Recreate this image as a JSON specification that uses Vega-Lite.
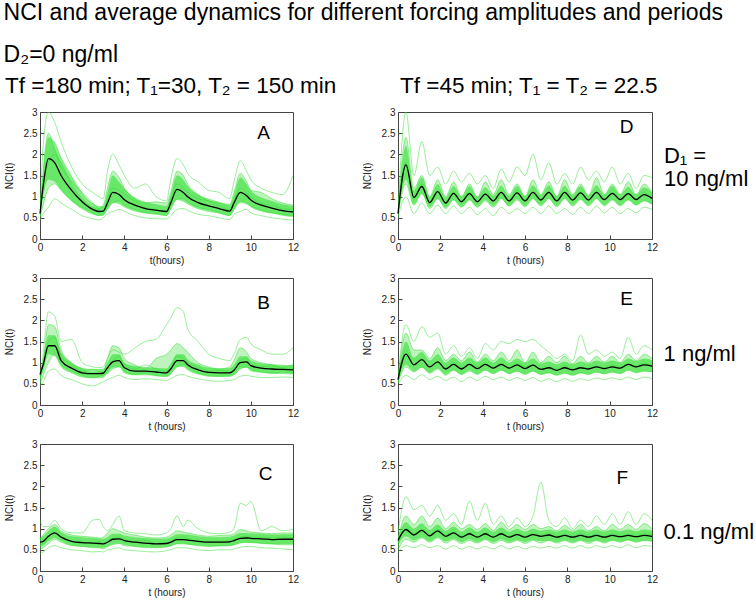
{
"$schema": "https://vega.github.io/schema/vega-lite/v6.json",
"padding": {"left": 3, "top": 2, "right": 3, "bottom": 3},
"title": {"text": "NCI and average dynamics for different forcing amplitudes and periods", "subtitle": "D₂=0 ng/ml", "anchor": "start", "frame": "bounds", "font": "Liberation Sans", "fontSize": 23, "fontWeight": "normal", "color": "black", "subtitleFont": "Liberation Sans", "subtitleFontSize": 23, "subtitleColor": "black", "subtitlePadding": 19, "offset": 8},
"data": {"values": [
{"c":1,"r":1,"t":0,"m":0.6,"l":0.5,"h":0.7,"a":0.65,"b":0.55,"u":0.6,"v":0.5,"w":0.45,"L":"A"},
{"c":1,"r":1,"t":0.15,"m":1.25,"l":1.0,"h":1.6,"a":2.2,"b":1.6,"u":1.2,"v":0.8,"w":0.6},
{"c":1,"r":1,"t":0.4,"m":1.9,"l":1.4,"h":2.4,"a":3.0,"b":2.5,"u":1.8,"v":1.2,"w":0.75},
{"c":1,"r":1,"t":0.7,"m":1.8,"l":1.35,"h":2.3,"a":2.75,"b":2.1,"u":2.0,"v":1.3,"w":0.95},
{"c":1,"r":1,"t":1,"m":1.5,"l":1.15,"h":1.95,"a":2.3,"b":1.8,"u":1.7,"v":1.15,"w":0.85},
{"c":1,"r":1,"t":1.5,"m":1.15,"l":0.9,"h":1.5,"a":1.7,"b":1.3,"u":1.35,"v":0.9,"w":0.7},
{"c":1,"r":1,"t":2,"m":0.88,"l":0.7,"h":1.1,"a":1.3,"b":0.95,"u":1.1,"v":0.75,"w":0.55},
{"c":1,"r":1,"t":2.5,"m":0.7,"l":0.58,"h":0.85,"a":1.1,"b":0.75,"u":0.85,"v":0.62,"w":0.48},
{"c":1,"r":1,"t":2.8,"m":0.65,"l":0.55,"h":0.78,"a":1.0,"b":0.72,"u":0.7,"v":0.55,"w":0.45},
{"c":1,"r":1,"t":3,"m":0.66,"l":0.55,"h":0.78,"a":0.95,"b":0.8,"u":0.65,"v":0.58,"w":0.5},
{"c":1,"r":1,"t":3.2,"m":0.85,"l":0.7,"h":1.1,"a":1.6,"b":1.2,"u":0.95,"v":0.7,"w":0.6},
{"c":1,"r":1,"t":3.45,"m":1.1,"l":0.85,"h":1.5,"a":2.0,"b":1.6,"u":1.2,"v":0.85,"w":0.65},
{"c":1,"r":1,"t":3.75,"m":1.05,"l":0.82,"h":1.35,"a":1.75,"b":1.45,"u":1.15,"v":0.9,"w":0.7},
{"c":1,"r":1,"t":4,"m":0.93,"l":0.75,"h":1.2,"a":1.5,"b":1.2,"u":1.05,"v":0.8,"w":0.65},
{"c":1,"r":1,"t":4.5,"m":0.8,"l":0.65,"h":0.98,"a":1.2,"b":0.95,"u":0.9,"v":0.7,"w":0.55},
{"c":1,"r":1,"t":5,"m":0.72,"l":0.6,"h":0.88,"a":1.3,"b":0.85,"u":0.75,"v":0.62,"w":0.5},
{"c":1,"r":1,"t":5.5,"m":0.68,"l":0.57,"h":0.82,"a":1.0,"b":0.88,"u":0.7,"v":0.6,"w":0.48},
{"c":1,"r":1,"t":6,"m":0.65,"l":0.55,"h":0.78,"a":0.9,"b":0.85,"u":0.66,"v":0.55,"w":0.47},
{"c":1,"r":1,"t":6.2,"m":0.85,"l":0.7,"h":1.05,"a":1.4,"b":1.1,"u":0.95,"v":0.7,"w":0.55},
{"c":1,"r":1,"t":6.5,"m":1.17,"l":0.92,"h":1.5,"a":1.9,"b":1.6,"u":1.3,"v":0.95,"w":0.7},
{"c":1,"r":1,"t":6.8,"m":1.1,"l":0.88,"h":1.4,"a":1.75,"b":1.5,"u":1.2,"v":0.95,"w":0.72},
{"c":1,"r":1,"t":7,"m":1.0,"l":0.82,"h":1.25,"a":1.55,"b":1.3,"u":1.1,"v":0.88,"w":0.68},
{"c":1,"r":1,"t":7.5,"m":0.86,"l":0.7,"h":1.05,"a":1.35,"b":1.05,"u":0.95,"v":0.75,"w":0.58},
{"c":1,"r":1,"t":8,"m":0.78,"l":0.64,"h":0.95,"a":1.15,"b":0.9,"u":0.9,"v":0.7,"w":0.55},
{"c":1,"r":1,"t":8.5,"m":0.72,"l":0.6,"h":0.88,"a":1.1,"b":0.85,"u":0.78,"v":0.62,"w":0.5},
{"c":1,"r":1,"t":9,"m":0.66,"l":0.55,"h":0.8,"a":0.95,"b":0.82,"u":0.7,"v":0.55,"w":0.46},
{"c":1,"r":1,"t":9.2,"m":0.85,"l":0.68,"h":1.05,"a":1.35,"b":1.1,"u":0.9,"v":0.7,"w":0.58},
{"c":1,"r":1,"t":9.5,"m":1.1,"l":0.85,"h":1.45,"a":1.85,"b":1.55,"u":1.2,"v":0.9,"w":0.65},
{"c":1,"r":1,"t":9.8,"m":1.02,"l":0.82,"h":1.3,"a":1.6,"b":1.35,"u":1.1,"v":0.85,"w":0.7},
{"c":1,"r":1,"t":10,"m":0.92,"l":0.75,"h":1.15,"a":1.4,"b":1.15,"u":1.0,"v":0.78,"w":0.62},
{"c":1,"r":1,"t":10.5,"m":0.8,"l":0.65,"h":0.98,"a":1.2,"b":1.1,"u":0.85,"v":0.68,"w":0.55},
{"c":1,"r":1,"t":11,"m":0.73,"l":0.6,"h":0.9,"a":1.1,"b":0.95,"u":0.8,"v":0.62,"w":0.5},
{"c":1,"r":1,"t":11.5,"m":0.67,"l":0.55,"h":0.82,"a":1.05,"b":0.85,"u":0.72,"v":0.58,"w":0.47},
{"c":1,"r":1,"t":12,"m":0.64,"l":0.52,"h":0.78,"a":1.5,"b":0.8,"u":0.7,"v":0.55,"w":0.45},
{"c":1,"r":2,"t":0,"m":0.72,"l":0.6,"h":0.8,"a":0.55,"b":0.6,"u":0.75,"v":0.5,"w":0.45,"L":"B"},
{"c":1,"r":2,"t":0.15,"m":0.95,"l":0.8,"h":1.1,"a":1.2,"b":1.0,"u":0.9,"v":0.7,"w":0.55},
{"c":1,"r":2,"t":0.4,"m":1.4,"l":1.2,"h":1.65,"a":2.2,"b":1.9,"u":1.5,"v":1.0,"w":0.8},
{"c":1,"r":2,"t":0.7,"m":1.4,"l":1.15,"h":1.65,"a":2.1,"b":1.85,"u":1.6,"v":1.2,"w":0.85},
{"c":1,"r":2,"t":1,"m":1.05,"l":0.9,"h":1.25,"a":1.5,"b":1.3,"u":1.15,"v":0.95,"w":0.7},
{"c":1,"r":2,"t":1.5,"m":0.87,"l":0.75,"h":1.0,"a":1.55,"b":1.0,"u":0.95,"v":0.8,"w":0.6},
{"c":1,"r":2,"t":2,"m":0.76,"l":0.65,"h":0.88,"a":1.0,"b":0.85,"u":0.8,"v":0.7,"w":0.5},
{"c":1,"r":2,"t":2.5,"m":0.74,"l":0.63,"h":0.85,"a":0.9,"b":0.75,"u":0.85,"v":0.65,"w":0.45},
{"c":1,"r":2,"t":2.8,"m":0.74,"l":0.63,"h":0.85,"a":0.88,"b":0.78,"u":0.8,"v":0.68,"w":0.5},
{"c":1,"r":2,"t":3,"m":0.75,"l":0.64,"h":0.86,"a":0.9,"b":0.8,"u":0.75,"v":0.7,"w":0.55},
{"c":1,"r":2,"t":3.2,"m":0.88,"l":0.75,"h":1.0,"a":1.1,"b":1.1,"u":0.9,"v":0.75,"w":0.6},
{"c":1,"r":2,"t":3.45,"m":1.02,"l":0.88,"h":1.2,"a":1.3,"b":1.4,"u":1.05,"v":0.85,"w":0.65},
{"c":1,"r":2,"t":3.75,"m":1.05,"l":0.9,"h":1.2,"a":1.25,"b":1.35,"u":1.15,"v":0.9,"w":0.7},
{"c":1,"r":2,"t":4,"m":0.88,"l":0.75,"h":1.0,"a":1.2,"b":1.1,"u":0.95,"v":0.8,"w":0.65},
{"c":1,"r":2,"t":4.5,"m":0.8,"l":0.7,"h":0.92,"a":1.35,"b":0.95,"u":0.85,"v":0.72,"w":0.6},
{"c":1,"r":2,"t":5,"m":0.8,"l":0.7,"h":0.9,"a":1.5,"b":0.85,"u":0.95,"v":0.75,"w":0.62},
{"c":1,"r":2,"t":5.5,"m":0.78,"l":0.68,"h":0.88,"a":1.55,"b":1.1,"u":0.85,"v":0.7,"w":0.6},
{"c":1,"r":2,"t":6,"m":0.76,"l":0.66,"h":0.86,"a":1.9,"b":1.2,"u":0.8,"v":0.68,"w":0.58},
{"c":1,"r":2,"t":6.2,"m":0.85,"l":0.72,"h":0.98,"a":2.05,"b":1.3,"u":0.9,"v":0.75,"w":0.62},
{"c":1,"r":2,"t":6.5,"m":1.05,"l":0.9,"h":1.2,"a":2.3,"b":1.45,"u":1.15,"v":0.9,"w":0.7},
{"c":1,"r":2,"t":6.8,"m":1.05,"l":0.9,"h":1.2,"a":2.2,"b":1.35,"u":1.1,"v":0.95,"w":0.72},
{"c":1,"r":2,"t":7,"m":0.95,"l":0.82,"h":1.08,"a":1.8,"b":1.25,"u":1.0,"v":0.88,"w":0.68},
{"c":1,"r":2,"t":7.5,"m":0.83,"l":0.72,"h":0.95,"a":1.5,"b":1.0,"u":0.9,"v":0.75,"w":0.62},
{"c":1,"r":2,"t":8,"m":0.77,"l":0.67,"h":0.88,"a":1.2,"b":0.9,"u":0.8,"v":0.7,"w":0.58},
{"c":1,"r":2,"t":8.5,"m":0.76,"l":0.66,"h":0.87,"a":1.1,"b":0.85,"u":0.82,"v":0.68,"w":0.56},
{"c":1,"r":2,"t":9,"m":0.76,"l":0.66,"h":0.87,"a":1.05,"b":0.9,"u":0.78,"v":0.7,"w":0.58},
{"c":1,"r":2,"t":9.2,"m":0.82,"l":0.7,"h":0.95,"a":1.2,"b":1.05,"u":0.85,"v":0.72,"w":0.6},
{"c":1,"r":2,"t":9.5,"m":1.0,"l":0.86,"h":1.15,"a":1.55,"b":1.35,"u":1.05,"v":0.85,"w":0.68},
{"c":1,"r":2,"t":9.8,"m":1.02,"l":0.88,"h":1.15,"a":1.6,"b":1.25,"u":1.1,"v":0.9,"w":0.7},
{"c":1,"r":2,"t":10,"m":0.93,"l":0.8,"h":1.05,"a":1.45,"b":1.1,"u":0.95,"v":0.85,"w":0.68},
{"c":1,"r":2,"t":10.5,"m":0.87,"l":0.76,"h":0.98,"a":1.3,"b":1.0,"u":0.9,"v":0.78,"w":0.65},
{"c":1,"r":2,"t":11,"m":0.85,"l":0.74,"h":0.96,"a":1.2,"b":0.95,"u":0.92,"v":0.75,"w":0.65},
{"c":1,"r":2,"t":11.5,"m":0.84,"l":0.73,"h":0.95,"a":1.2,"b":0.9,"u":0.88,"v":0.78,"w":0.66},
{"c":1,"r":2,"t":12,"m":0.83,"l":0.72,"h":0.94,"a":1.35,"b":0.95,"u":0.85,"v":0.75,"w":0.65},
{"c":1,"r":3,"t":0,"m":0.68,"l":0.58,"h":0.8,"a":1.2,"b":0.75,"u":0.6,"v":0.5,"w":0.4,"L":"C"},
{"c":1,"r":3,"t":0.15,"m":0.7,"l":0.6,"h":0.82,"a":1.05,"b":0.85,"u":0.65,"v":0.55,"w":0.45},
{"c":1,"r":3,"t":0.4,"m":0.82,"l":0.7,"h":0.95,"a":1.05,"b":1.0,"u":0.8,"v":0.65,"w":0.55},
{"c":1,"r":3,"t":0.7,"m":0.9,"l":0.78,"h":1.05,"a":1.2,"b":1.1,"u":0.9,"v":0.75,"w":0.6},
{"c":1,"r":3,"t":1,"m":0.8,"l":0.7,"h":0.92,"a":1.0,"b":0.95,"u":0.82,"v":0.68,"w":0.55},
{"c":1,"r":3,"t":1.5,"m":0.7,"l":0.6,"h":0.82,"a":0.9,"b":0.85,"u":0.7,"v":0.6,"w":0.5},
{"c":1,"r":3,"t":2,"m":0.67,"l":0.57,"h":0.8,"a":0.9,"b":0.82,"u":0.68,"v":0.58,"w":0.48},
{"c":1,"r":3,"t":2.5,"m":0.66,"l":0.56,"h":0.78,"a":1.2,"b":0.8,"u":0.65,"v":0.55,"w":0.45},
{"c":1,"r":3,"t":2.8,"m":0.65,"l":0.55,"h":0.77,"a":1.22,"b":0.78,"u":0.7,"v":0.55,"w":0.46},
{"c":1,"r":3,"t":3,"m":0.64,"l":0.55,"h":0.76,"a":1.05,"b":0.8,"u":0.66,"v":0.52,"w":0.45},
{"c":1,"r":3,"t":3.2,"m":0.68,"l":0.58,"h":0.8,"a":0.95,"b":0.9,"u":0.7,"v":0.58,"w":0.5},
{"c":1,"r":3,"t":3.45,"m":0.75,"l":0.64,"h":0.88,"a":1.1,"b":1.0,"u":0.78,"v":0.62,"w":0.52},
{"c":1,"r":3,"t":3.75,"m":0.76,"l":0.65,"h":0.88,"a":1.3,"b":0.95,"u":0.8,"v":0.65,"w":0.55},
{"c":1,"r":3,"t":4,"m":0.72,"l":0.62,"h":0.84,"a":0.95,"b":0.9,"u":0.75,"v":0.6,"w":0.5},
{"c":1,"r":3,"t":4.5,"m":0.68,"l":0.58,"h":0.8,"a":0.9,"b":0.85,"u":0.7,"v":0.58,"w":0.48},
{"c":1,"r":3,"t":5,"m":0.66,"l":0.56,"h":0.78,"a":0.88,"b":0.8,"u":0.72,"v":0.55,"w":0.46},
{"c":1,"r":3,"t":5.5,"m":0.64,"l":0.55,"h":0.76,"a":0.85,"b":0.78,"u":0.65,"v":0.55,"w":0.45},
{"c":1,"r":3,"t":6,"m":0.65,"l":0.56,"h":0.77,"a":0.9,"b":0.8,"u":0.68,"v":0.57,"w":0.48},
{"c":1,"r":3,"t":6.2,"m":0.68,"l":0.58,"h":0.8,"a":1.0,"b":0.85,"u":0.72,"v":0.6,"w":0.5},
{"c":1,"r":3,"t":6.5,"m":0.74,"l":0.63,"h":0.87,"a":1.3,"b":0.95,"u":0.78,"v":0.65,"w":0.55},
{"c":1,"r":3,"t":6.8,"m":0.74,"l":0.63,"h":0.87,"a":1.05,"b":0.92,"u":0.8,"v":0.66,"w":0.55},
{"c":1,"r":3,"t":7,"m":0.73,"l":0.62,"h":0.86,"a":1.2,"b":0.9,"u":0.76,"v":0.64,"w":0.54},
{"c":1,"r":3,"t":7.5,"m":0.7,"l":0.6,"h":0.82,"a":1.0,"b":0.85,"u":0.72,"v":0.6,"w":0.5},
{"c":1,"r":3,"t":8,"m":0.68,"l":0.58,"h":0.8,"a":0.9,"b":0.82,"u":0.7,"v":0.58,"w":0.48},
{"c":1,"r":3,"t":8.5,"m":0.68,"l":0.58,"h":0.8,"a":0.88,"b":0.84,"u":0.7,"v":0.6,"w":0.5},
{"c":1,"r":3,"t":9,"m":0.69,"l":0.59,"h":0.81,"a":0.92,"b":0.85,"u":0.72,"v":0.6,"w":0.5},
{"c":1,"r":3,"t":9.2,"m":0.72,"l":0.61,"h":0.84,"a":1.0,"b":0.88,"u":0.75,"v":0.62,"w":0.52},
{"c":1,"r":3,"t":9.5,"m":0.77,"l":0.66,"h":0.9,"a":1.6,"b":0.98,"u":0.8,"v":0.66,"w":0.56},
{"c":1,"r":3,"t":9.8,"m":0.78,"l":0.67,"h":0.9,"a":1.55,"b":0.95,"u":0.82,"v":0.68,"w":0.58},
{"c":1,"r":3,"t":10,"m":0.77,"l":0.66,"h":0.89,"a":1.65,"b":0.92,"u":0.8,"v":0.68,"w":0.58},
{"c":1,"r":3,"t":10.5,"m":0.76,"l":0.65,"h":0.88,"a":0.95,"b":0.9,"u":0.8,"v":0.65,"w":0.55},
{"c":1,"r":3,"t":11,"m":0.74,"l":0.63,"h":0.86,"a":1.05,"b":0.88,"u":0.78,"v":0.64,"w":0.54},
{"c":1,"r":3,"t":11.5,"m":0.75,"l":0.64,"h":0.87,"a":0.95,"b":0.9,"u":0.8,"v":0.62,"w":0.52},
{"c":1,"r":3,"t":12,"m":0.75,"l":0.64,"h":0.87,"a":0.98,"b":0.9,"u":0.78,"v":0.62,"w":0.5},
{"c":2,"r":1,"t":0,"m":0.6,"l":0.55,"h":0.68,"a":0.7,"b":0.65,"u":0.6,"v":0.55,"w":0.5,"L":"D"},
{"c":2,"r":1,"t":0.375,"m":1.75,"l":1.4,"h":2.2,"a":3.0,"b":2.4,"u":1.8,"v":1.3,"w":1.0},
{"c":2,"r":1,"t":0.75,"m":0.98,"l":0.82,"h":1.15,"a":1.5,"b":1.2,"u":0.95,"v":0.8,"w":0.6},
{"c":2,"r":1,"t":1.125,"m":1.24,"l":1.05,"h":1.45,"a":2.3,"b":1.5,"u":1.3,"v":1.1,"w":0.85},
{"c":2,"r":1,"t":1.5,"m":0.86,"l":0.75,"h":1.0,"a":1.5,"b":1.0,"u":0.85,"v":0.72,"w":0.6},
{"c":2,"r":1,"t":1.875,"m":1.12,"l":0.95,"h":1.3,"a":1.7,"b":1.4,"u":1.15,"v":0.95,"w":0.8},
{"c":2,"r":1,"t":2.25,"m":0.85,"l":0.74,"h":0.98,"a":1.3,"b":1.0,"u":0.85,"v":0.72,"w":0.6},
{"c":2,"r":1,"t":2.625,"m":1.08,"l":0.92,"h":1.25,"a":1.6,"b":1.35,"u":1.1,"v":0.92,"w":0.78},
{"c":2,"r":1,"t":3,"m":0.88,"l":0.76,"h":1.0,"a":1.35,"b":1.0,"u":0.9,"v":0.75,"w":0.6},
{"c":2,"r":1,"t":3.375,"m":1.07,"l":0.92,"h":1.25,"a":1.55,"b":1.3,"u":1.1,"v":0.92,"w":0.75},
{"c":2,"r":1,"t":3.75,"m":0.88,"l":0.76,"h":1.0,"a":1.3,"b":0.98,"u":0.88,"v":0.75,"w":0.58},
{"c":2,"r":1,"t":4.125,"m":1.06,"l":0.92,"h":1.22,"a":1.5,"b":1.35,"u":1.05,"v":0.9,"w":0.72},
{"c":2,"r":1,"t":4.5,"m":0.9,"l":0.78,"h":1.02,"a":1.2,"b":1.05,"u":0.9,"v":0.75,"w":0.55},
{"c":2,"r":1,"t":4.875,"m":1.1,"l":0.95,"h":1.26,"a":1.65,"b":1.4,"u":1.1,"v":0.95,"w":0.75},
{"c":2,"r":1,"t":5.25,"m":0.9,"l":0.78,"h":1.02,"a":1.35,"b":1.05,"u":0.88,"v":0.78,"w":0.6},
{"c":2,"r":1,"t":5.625,"m":1.09,"l":0.94,"h":1.25,"a":1.7,"b":1.3,"u":1.15,"v":0.92,"w":0.72},
{"c":2,"r":1,"t":6,"m":0.9,"l":0.78,"h":1.02,"a":1.5,"b":1.0,"u":0.92,"v":0.76,"w":0.6},
{"c":2,"r":1,"t":6.375,"m":1.1,"l":0.95,"h":1.27,"a":2.0,"b":1.4,"u":1.1,"v":0.95,"w":0.75},
{"c":2,"r":1,"t":6.75,"m":0.92,"l":0.8,"h":1.04,"a":1.4,"b":1.05,"u":0.9,"v":0.78,"w":0.6},
{"c":2,"r":1,"t":7.125,"m":1.1,"l":0.95,"h":1.27,"a":1.8,"b":1.35,"u":1.12,"v":0.95,"w":0.78},
{"c":2,"r":1,"t":7.5,"m":0.9,"l":0.78,"h":1.02,"a":1.3,"b":1.0,"u":0.92,"v":0.76,"w":0.6},
{"c":2,"r":1,"t":7.875,"m":1.1,"l":0.95,"h":1.26,"a":1.55,"b":1.4,"u":1.1,"v":0.95,"w":0.72},
{"c":2,"r":1,"t":8.25,"m":0.92,"l":0.8,"h":1.04,"a":1.3,"b":1.05,"u":0.9,"v":0.78,"w":0.58},
{"c":2,"r":1,"t":8.625,"m":1.09,"l":0.94,"h":1.25,"a":1.7,"b":1.3,"u":1.12,"v":0.93,"w":0.75},
{"c":2,"r":1,"t":9,"m":0.92,"l":0.8,"h":1.04,"a":1.4,"b":1.02,"u":0.92,"v":0.78,"w":0.6},
{"c":2,"r":1,"t":9.375,"m":1.1,"l":0.95,"h":1.27,"a":1.6,"b":1.45,"u":1.1,"v":0.95,"w":0.78},
{"c":2,"r":1,"t":9.75,"m":0.93,"l":0.8,"h":1.05,"a":1.35,"b":1.05,"u":0.95,"v":0.78,"w":0.62},
{"c":2,"r":1,"t":10.125,"m":1.08,"l":0.93,"h":1.25,"a":1.7,"b":1.3,"u":1.1,"v":0.92,"w":0.75},
{"c":2,"r":1,"t":10.5,"m":0.93,"l":0.8,"h":1.05,"a":1.3,"b":1.05,"u":0.92,"v":0.78,"w":0.6},
{"c":2,"r":1,"t":10.875,"m":1.07,"l":0.92,"h":1.23,"a":1.55,"b":1.35,"u":1.05,"v":0.92,"w":0.72},
{"c":2,"r":1,"t":11.25,"m":0.93,"l":0.8,"h":1.05,"a":1.2,"b":1.05,"u":0.95,"v":0.8,"w":0.62},
{"c":2,"r":1,"t":11.625,"m":1.05,"l":0.9,"h":1.22,"a":1.5,"b":1.3,"u":1.1,"v":0.9,"w":0.75},
{"c":2,"r":1,"t":12,"m":0.96,"l":0.82,"h":1.1,"a":1.45,"b":1.1,"u":0.98,"v":0.82,"w":0.7},
{"c":2,"r":2,"t":0,"m":0.6,"l":0.52,"h":0.68,"a":0.65,"b":0.6,"u":0.55,"v":0.52,"w":0.5,"L":"E"},
{"c":2,"r":2,"t":0.375,"m":1.2,"l":0.95,"h":1.5,"a":1.9,"b":1.7,"u":1.3,"v":0.9,"w":0.7},
{"c":2,"r":2,"t":0.75,"m":0.95,"l":0.8,"h":1.12,"a":1.5,"b":1.3,"u":0.95,"v":0.78,"w":0.6},
{"c":2,"r":2,"t":1.125,"m":1.07,"l":0.88,"h":1.25,"a":1.85,"b":1.3,"u":1.1,"v":0.9,"w":0.72},
{"c":2,"r":2,"t":1.5,"m":0.9,"l":0.76,"h":1.05,"a":1.6,"b":1.1,"u":0.9,"v":0.75,"w":0.6},
{"c":2,"r":2,"t":1.875,"m":1.02,"l":0.86,"h":1.2,"a":1.7,"b":1.35,"u":1.0,"v":0.85,"w":0.68},
{"c":2,"r":2,"t":2.25,"m":0.85,"l":0.72,"h":1.0,"a":1.2,"b":1.05,"u":0.88,"v":0.7,"w":0.58},
{"c":2,"r":2,"t":2.625,"m":0.96,"l":0.82,"h":1.12,"a":1.4,"b":1.2,"u":1.0,"v":0.82,"w":0.66},
{"c":2,"r":2,"t":3,"m":0.85,"l":0.72,"h":1.0,"a":1.15,"b":1.05,"u":0.88,"v":0.72,"w":0.55},
{"c":2,"r":2,"t":3.375,"m":0.96,"l":0.82,"h":1.12,"a":1.35,"b":1.25,"u":0.98,"v":0.8,"w":0.66},
{"c":2,"r":2,"t":3.75,"m":0.86,"l":0.73,"h":1.0,"a":1.1,"b":1.02,"u":0.9,"v":0.72,"w":0.58},
{"c":2,"r":2,"t":4.125,"m":0.96,"l":0.82,"h":1.12,"a":1.45,"b":1.2,"u":1.0,"v":0.82,"w":0.68},
{"c":2,"r":2,"t":4.5,"m":0.87,"l":0.74,"h":1.0,"a":1.3,"b":1.05,"u":0.9,"v":0.74,"w":0.6},
{"c":2,"r":2,"t":4.875,"m":0.96,"l":0.82,"h":1.12,"a":1.5,"b":1.25,"u":0.98,"v":0.82,"w":0.66},
{"c":2,"r":2,"t":5.25,"m":0.87,"l":0.74,"h":1.0,"a":1.45,"b":1.05,"u":0.88,"v":0.74,"w":0.58},
{"c":2,"r":2,"t":5.625,"m":0.95,"l":0.8,"h":1.1,"a":1.55,"b":1.3,"u":0.98,"v":0.8,"w":0.65},
{"c":2,"r":2,"t":6,"m":0.86,"l":0.73,"h":1.0,"a":1.5,"b":1.0,"u":0.9,"v":0.72,"w":0.58},
{"c":2,"r":2,"t":6.375,"m":0.94,"l":0.8,"h":1.1,"a":1.55,"b":1.25,"u":0.95,"v":0.8,"w":0.65},
{"c":2,"r":2,"t":6.75,"m":0.84,"l":0.72,"h":0.98,"a":1.4,"b":1.0,"u":0.86,"v":0.72,"w":0.56},
{"c":2,"r":2,"t":7.125,"m":0.88,"l":0.75,"h":1.03,"a":1.25,"b":1.15,"u":0.9,"v":0.76,"w":0.62},
{"c":2,"r":2,"t":7.5,"m":0.82,"l":0.7,"h":0.96,"a":1.1,"b":1.0,"u":0.85,"v":0.7,"w":0.55},
{"c":2,"r":2,"t":7.875,"m":0.88,"l":0.75,"h":1.03,"a":1.2,"b":1.15,"u":0.92,"v":0.75,"w":0.62},
{"c":2,"r":2,"t":8.25,"m":0.83,"l":0.7,"h":0.96,"a":1.05,"b":0.98,"u":0.86,"v":0.7,"w":0.56},
{"c":2,"r":2,"t":8.625,"m":0.88,"l":0.75,"h":1.03,"a":1.65,"b":1.15,"u":0.9,"v":0.76,"w":0.62},
{"c":2,"r":2,"t":9,"m":0.85,"l":0.72,"h":0.98,"a":1.2,"b":1.0,"u":0.88,"v":0.72,"w":0.58},
{"c":2,"r":2,"t":9.375,"m":0.9,"l":0.77,"h":1.05,"a":1.3,"b":1.15,"u":0.92,"v":0.78,"w":0.64},
{"c":2,"r":2,"t":9.75,"m":0.86,"l":0.73,"h":1.0,"a":1.15,"b":1.02,"u":0.88,"v":0.74,"w":0.6},
{"c":2,"r":2,"t":10.125,"m":0.9,"l":0.77,"h":1.05,"a":1.25,"b":1.15,"u":0.94,"v":0.78,"w":0.64},
{"c":2,"r":2,"t":10.5,"m":0.87,"l":0.74,"h":1.0,"a":1.1,"b":1.0,"u":0.9,"v":0.74,"w":0.6},
{"c":2,"r":2,"t":10.875,"m":0.96,"l":0.82,"h":1.1,"a":1.6,"b":1.2,"u":0.98,"v":0.82,"w":0.66},
{"c":2,"r":2,"t":11.25,"m":0.9,"l":0.77,"h":1.04,"a":1.2,"b":1.05,"u":0.92,"v":0.76,"w":0.6},
{"c":2,"r":2,"t":11.625,"m":0.95,"l":0.8,"h":1.1,"a":1.4,"b":1.2,"u":0.98,"v":0.8,"w":0.66},
{"c":2,"r":2,"t":12,"m":0.92,"l":0.78,"h":1.06,"a":1.3,"b":1.1,"u":0.95,"v":0.78,"w":0.62},
{"c":2,"r":3,"t":0,"m":0.72,"l":0.62,"h":0.82,"a":0.9,"b":0.75,"u":0.6,"v":0.5,"w":0.45,"L":"F"},
{"c":2,"r":3,"t":0.375,"m":0.98,"l":0.82,"h":1.15,"a":1.75,"b":1.3,"u":1.0,"v":0.75,"w":0.6},
{"c":2,"r":3,"t":0.75,"m":0.85,"l":0.72,"h":1.0,"a":1.45,"b":1.1,"u":0.88,"v":0.68,"w":0.55},
{"c":2,"r":3,"t":1.125,"m":0.96,"l":0.8,"h":1.12,"a":1.55,"b":1.3,"u":0.98,"v":0.78,"w":0.62},
{"c":2,"r":3,"t":1.5,"m":0.83,"l":0.7,"h":0.97,"a":1.3,"b":1.05,"u":0.85,"v":0.68,"w":0.55},
{"c":2,"r":3,"t":1.875,"m":0.95,"l":0.8,"h":1.1,"a":1.55,"b":1.25,"u":0.98,"v":0.78,"w":0.6},
{"c":2,"r":3,"t":2.25,"m":0.82,"l":0.7,"h":0.95,"a":1.2,"b":1.0,"u":0.85,"v":0.66,"w":0.52},
{"c":2,"r":3,"t":2.625,"m":0.9,"l":0.76,"h":1.05,"a":1.35,"b":1.15,"u":0.92,"v":0.74,"w":0.6},
{"c":2,"r":3,"t":3,"m":0.8,"l":0.68,"h":0.93,"a":1.1,"b":1.0,"u":0.82,"v":0.65,"w":0.52},
{"c":2,"r":3,"t":3.375,"m":0.88,"l":0.75,"h":1.03,"a":1.65,"b":1.1,"u":0.9,"v":0.72,"w":0.58},
{"c":2,"r":3,"t":3.75,"m":0.8,"l":0.68,"h":0.93,"a":1.2,"b":0.98,"u":0.8,"v":0.66,"w":0.52},
{"c":2,"r":3,"t":4.125,"m":0.88,"l":0.75,"h":1.03,"a":1.6,"b":1.12,"u":0.9,"v":0.74,"w":0.58},
{"c":2,"r":3,"t":4.5,"m":0.8,"l":0.68,"h":0.93,"a":1.1,"b":0.96,"u":0.82,"v":0.65,"w":0.52},
{"c":2,"r":3,"t":4.875,"m":0.88,"l":0.75,"h":1.03,"a":1.3,"b":1.15,"u":0.9,"v":0.72,"w":0.6},
{"c":2,"r":3,"t":5.25,"m":0.8,"l":0.68,"h":0.93,"a":1.05,"b":0.98,"u":0.82,"v":0.66,"w":0.52},
{"c":2,"r":3,"t":5.625,"m":0.86,"l":0.73,"h":1.0,"a":1.25,"b":1.1,"u":0.88,"v":0.72,"w":0.58},
{"c":2,"r":3,"t":6,"m":0.8,"l":0.68,"h":0.93,"a":1.05,"b":0.98,"u":0.82,"v":0.65,"w":0.52},
{"c":2,"r":3,"t":6.375,"m":0.86,"l":0.73,"h":1.0,"a":1.3,"b":1.1,"u":0.88,"v":0.72,"w":0.58},
{"c":2,"r":3,"t":6.75,"m":0.82,"l":0.7,"h":0.95,"a":2.1,"b":1.0,"u":0.84,"v":0.66,"w":0.54},
{"c":2,"r":3,"t":7.125,"m":0.85,"l":0.72,"h":0.98,"a":1.2,"b":1.05,"u":0.88,"v":0.72,"w":0.58},
{"c":2,"r":3,"t":7.5,"m":0.8,"l":0.68,"h":0.93,"a":1.05,"b":0.95,"u":0.82,"v":0.66,"w":0.54},
{"c":2,"r":3,"t":7.875,"m":0.84,"l":0.72,"h":0.98,"a":1.25,"b":1.08,"u":0.86,"v":0.72,"w":0.6},
{"c":2,"r":3,"t":8.25,"m":0.8,"l":0.68,"h":0.93,"a":1.0,"b":0.96,"u":0.82,"v":0.66,"w":0.54},
{"c":2,"r":3,"t":8.625,"m":0.84,"l":0.72,"h":0.98,"a":1.2,"b":1.1,"u":0.88,"v":0.72,"w":0.6},
{"c":2,"r":3,"t":9,"m":0.8,"l":0.68,"h":0.93,"a":1.05,"b":0.95,"u":0.82,"v":0.65,"w":0.54},
{"c":2,"r":3,"t":9.375,"m":0.84,"l":0.72,"h":0.98,"a":1.3,"b":1.05,"u":0.86,"v":0.72,"w":0.6},
{"c":2,"r":3,"t":9.75,"m":0.8,"l":0.68,"h":0.93,"a":1.1,"b":0.95,"u":0.82,"v":0.66,"w":0.55},
{"c":2,"r":3,"t":10.125,"m":0.84,"l":0.72,"h":0.98,"a":1.35,"b":1.1,"u":0.88,"v":0.72,"w":0.6},
{"c":2,"r":3,"t":10.5,"m":0.81,"l":0.69,"h":0.94,"a":1.1,"b":0.98,"u":0.84,"v":0.68,"w":0.55},
{"c":2,"r":3,"t":10.875,"m":0.84,"l":0.72,"h":0.98,"a":1.4,"b":1.1,"u":0.86,"v":0.74,"w":0.62},
{"c":2,"r":3,"t":11.25,"m":0.81,"l":0.69,"h":0.94,"a":1.1,"b":0.98,"u":0.84,"v":0.68,"w":0.55},
{"c":2,"r":3,"t":11.625,"m":0.84,"l":0.72,"h":0.98,"a":1.35,"b":1.12,"u":0.88,"v":0.72,"w":0.6},
{"c":2,"r":3,"t":12,"m":0.82,"l":0.7,"h":0.95,"a":1.2,"b":1.0,"u":0.85,"v":0.7,"w":0.58}
]},
"spacing": 23,
"hconcat": [
 {"spacing": 6,
  "title": {"text": "Tf =180 min; T₁=30, T₂ = 150 min", "anchor": "start", "frame": "group", "font": "Liberation Sans", "fontSize": 22.5, "fontWeight": "normal", "color": "black", "offset": 9, "dx": -35},
  "vconcat": [
  {"width": 253, "height": 127, "transform": [{"filter": "datum.c == 1 && datum.r == 1"}],
   "encoding": {"x": {"field": "t", "type": "quantitative", "scale": {"domain": [0, 12]}, "title": "t(hours)"}},
   "layer": [
    {"mark": {"type": "area", "color": "#44dd44", "opacity": 0.35, "interpolate": "monotone", "clip": true}, "encoding": {"y": {"field": "v", "type": "quantitative", "scale": {"domain": [0, 3]}, "title": "NCI(t)"}, "y2": {"field": "b"}}},
    {"mark": {"type": "area", "color": "#22dd22", "opacity": 0.55, "interpolate": "monotone", "clip": true}, "encoding": {"y": {"field": "l", "type": "quantitative", "title": "NCI(t)"}, "y2": {"field": "h"}}},
    {"transform": [{"fold": ["a", "b", "u", "v", "w"], "as": ["k", "y"]}], "mark": {"type": "line", "color": "#33dd33", "opacity": 0.55, "strokeWidth": 0.9, "interpolate": "monotone", "clip": true}, "encoding": {"y": {"field": "y", "type": "quantitative", "title": "NCI(t)"}, "detail": {"field": "k"}}},
    {"mark": {"type": "line", "color": "black", "strokeWidth": 1.3, "interpolate": "monotone"}, "encoding": {"y": {"field": "m", "type": "quantitative", "title": "NCI(t)"}}},
    {"transform": [{"filter": "datum.L"}], "mark": {"type": "text", "fontSize": 19, "align": "center", "baseline": "middle"}, "encoding": {"x": {"datum": 10.6}, "y": {"datum": 2.5}, "text": {"field": "L"}}}
   ]},
  {"width": 253, "height": 127, "transform": [{"filter": "datum.c == 1 && datum.r == 2"}],
   "encoding": {"x": {"field": "t", "type": "quantitative", "scale": {"domain": [0, 12]}, "title": "t (hours)"}},
   "layer": [
    {"mark": {"type": "area", "color": "#44dd44", "opacity": 0.35, "interpolate": "monotone", "clip": true}, "encoding": {"y": {"field": "v", "type": "quantitative", "scale": {"domain": [0, 3]}, "title": "NCI(t)"}, "y2": {"field": "b"}}},
    {"mark": {"type": "area", "color": "#22dd22", "opacity": 0.55, "interpolate": "monotone", "clip": true}, "encoding": {"y": {"field": "l", "type": "quantitative", "title": "NCI(t)"}, "y2": {"field": "h"}}},
    {"transform": [{"fold": ["a", "b", "u", "v", "w"], "as": ["k", "y"]}], "mark": {"type": "line", "color": "#33dd33", "opacity": 0.55, "strokeWidth": 0.9, "interpolate": "monotone", "clip": true}, "encoding": {"y": {"field": "y", "type": "quantitative", "title": "NCI(t)"}, "detail": {"field": "k"}}},
    {"mark": {"type": "line", "color": "black", "strokeWidth": 1.3, "interpolate": "monotone"}, "encoding": {"y": {"field": "m", "type": "quantitative", "title": "NCI(t)"}}},
    {"transform": [{"filter": "datum.L"}], "mark": {"type": "text", "fontSize": 19, "align": "center", "baseline": "middle"}, "encoding": {"x": {"datum": 10.6}, "y": {"datum": 2.4}, "text": {"field": "L"}}}
   ]},
  {"width": 253, "height": 127, "transform": [{"filter": "datum.c == 1 && datum.r == 3"}],
   "encoding": {"x": {"field": "t", "type": "quantitative", "scale": {"domain": [0, 12]}, "title": "t (hours)"}},
   "layer": [
    {"mark": {"type": "area", "color": "#44dd44", "opacity": 0.35, "interpolate": "monotone", "clip": true}, "encoding": {"y": {"field": "v", "type": "quantitative", "scale": {"domain": [0, 3]}, "title": "NCI(t)"}, "y2": {"field": "b"}}},
    {"mark": {"type": "area", "color": "#22dd22", "opacity": 0.55, "interpolate": "monotone", "clip": true}, "encoding": {"y": {"field": "l", "type": "quantitative", "title": "NCI(t)"}, "y2": {"field": "h"}}},
    {"transform": [{"fold": ["a", "b", "u", "v", "w"], "as": ["k", "y"]}], "mark": {"type": "line", "color": "#33dd33", "opacity": 0.55, "strokeWidth": 0.9, "interpolate": "monotone", "clip": true}, "encoding": {"y": {"field": "y", "type": "quantitative", "title": "NCI(t)"}, "detail": {"field": "k"}}},
    {"mark": {"type": "line", "color": "black", "strokeWidth": 1.3, "interpolate": "monotone"}, "encoding": {"y": {"field": "m", "type": "quantitative", "title": "NCI(t)"}}},
    {"transform": [{"filter": "datum.L"}], "mark": {"type": "text", "fontSize": 19, "align": "center", "baseline": "middle"}, "encoding": {"x": {"datum": 10.7}, "y": {"datum": 2.3}, "text": {"field": "L"}}}
   ]}
 ]},
 {"spacing": 6,
  "title": {"text": "Tf =45 min; T₁ = T₂ = 22.5", "anchor": "start", "frame": "group", "font": "Liberation Sans", "fontSize": 22.5, "fontWeight": "normal", "color": "black", "offset": 9, "dx": 2},
  "vconcat": [
  {"width": 254, "height": 127, "transform": [{"filter": "datum.c == 2 && datum.r == 1"}],
   "title": {"text": ["D₁  =", "10 ng/ml"], "orient": "right", "angle": 0, "align": "left", "baseline": "middle", "anchor": "middle", "offset": 6, "dx": -84, "dy": -20, "lineHeight": 23, "font": "Liberation Sans", "fontSize": 22, "fontWeight": "normal", "color": "black"},
   "encoding": {"x": {"field": "t", "type": "quantitative", "scale": {"domain": [0, 12]}, "title": "t (hours)"}},
   "layer": [
    {"mark": {"type": "area", "color": "#44dd44", "opacity": 0.35, "interpolate": "monotone", "clip": true}, "encoding": {"y": {"field": "v", "type": "quantitative", "scale": {"domain": [0, 3]}, "title": "NCI(t)"}, "y2": {"field": "b"}}},
    {"mark": {"type": "area", "color": "#22dd22", "opacity": 0.55, "interpolate": "monotone", "clip": true}, "encoding": {"y": {"field": "l", "type": "quantitative", "title": "NCI(t)"}, "y2": {"field": "h"}}},
    {"transform": [{"fold": ["a", "b", "u", "v", "w"], "as": ["k", "y"]}], "mark": {"type": "line", "color": "#33dd33", "opacity": 0.55, "strokeWidth": 0.9, "interpolate": "monotone", "clip": true}, "encoding": {"y": {"field": "y", "type": "quantitative", "title": "NCI(t)"}, "detail": {"field": "k"}}},
    {"mark": {"type": "line", "color": "black", "strokeWidth": 1.3, "interpolate": "monotone"}, "encoding": {"y": {"field": "m", "type": "quantitative", "title": "NCI(t)"}}},
    {"transform": [{"filter": "datum.L"}], "mark": {"type": "text", "fontSize": 19, "align": "center", "baseline": "middle"}, "encoding": {"x": {"datum": 10.8}, "y": {"datum": 2.65}, "text": {"field": "L"}}}
   ]},
  {"width": 254, "height": 127, "transform": [{"filter": "datum.c == 2 && datum.r == 2"}],
   "title": {"text": "1 ng/ml", "orient": "right", "angle": 0, "align": "right", "baseline": "middle", "anchor": "middle", "offset": 6, "dy": 12, "font": "Liberation Sans", "fontSize": 22, "fontWeight": "normal", "color": "black"},
   "encoding": {"x": {"field": "t", "type": "quantitative", "scale": {"domain": [0, 12]}, "title": "t (hours)"}},
   "layer": [
    {"mark": {"type": "area", "color": "#44dd44", "opacity": 0.35, "interpolate": "monotone", "clip": true}, "encoding": {"y": {"field": "v", "type": "quantitative", "scale": {"domain": [0, 3]}, "title": "NCI(t)"}, "y2": {"field": "b"}}},
    {"mark": {"type": "area", "color": "#22dd22", "opacity": 0.55, "interpolate": "monotone", "clip": true}, "encoding": {"y": {"field": "l", "type": "quantitative", "title": "NCI(t)"}, "y2": {"field": "h"}}},
    {"transform": [{"fold": ["a", "b", "u", "v", "w"], "as": ["k", "y"]}], "mark": {"type": "line", "color": "#33dd33", "opacity": 0.55, "strokeWidth": 0.9, "interpolate": "monotone", "clip": true}, "encoding": {"y": {"field": "y", "type": "quantitative", "title": "NCI(t)"}, "detail": {"field": "k"}}},
    {"mark": {"type": "line", "color": "black", "strokeWidth": 1.3, "interpolate": "monotone"}, "encoding": {"y": {"field": "m", "type": "quantitative", "title": "NCI(t)"}}},
    {"transform": [{"filter": "datum.L"}], "mark": {"type": "text", "fontSize": 19, "align": "center", "baseline": "middle"}, "encoding": {"x": {"datum": 10.8}, "y": {"datum": 2.5}, "text": {"field": "L"}}}
   ]},
  {"width": 254, "height": 127, "transform": [{"filter": "datum.c == 2 && datum.r == 3"}],
   "title": {"text": "0.1 ng/ml", "orient": "right", "angle": 0, "align": "right", "baseline": "middle", "anchor": "middle", "offset": 6, "dy": 24, "font": "Liberation Sans", "fontSize": 22, "fontWeight": "normal", "color": "black"},
   "encoding": {"x": {"field": "t", "type": "quantitative", "scale": {"domain": [0, 12]}, "title": "t (hours)"}},
   "layer": [
    {"mark": {"type": "area", "color": "#44dd44", "opacity": 0.35, "interpolate": "monotone", "clip": true}, "encoding": {"y": {"field": "v", "type": "quantitative", "scale": {"domain": [0, 3]}, "title": "NCI(t)"}, "y2": {"field": "b"}}},
    {"mark": {"type": "area", "color": "#22dd22", "opacity": 0.55, "interpolate": "monotone", "clip": true}, "encoding": {"y": {"field": "l", "type": "quantitative", "title": "NCI(t)"}, "y2": {"field": "h"}}},
    {"transform": [{"fold": ["a", "b", "u", "v", "w"], "as": ["k", "y"]}], "mark": {"type": "line", "color": "#33dd33", "opacity": 0.55, "strokeWidth": 0.9, "interpolate": "monotone", "clip": true}, "encoding": {"y": {"field": "y", "type": "quantitative", "title": "NCI(t)"}, "detail": {"field": "k"}}},
    {"mark": {"type": "line", "color": "black", "strokeWidth": 1.3, "interpolate": "monotone"}, "encoding": {"y": {"field": "m", "type": "quantitative", "title": "NCI(t)"}}},
    {"transform": [{"filter": "datum.L"}], "mark": {"type": "text", "fontSize": 19, "align": "center", "baseline": "middle"}, "encoding": {"x": {"datum": 10.6}, "y": {"datum": 2.2}, "text": {"field": "L"}}}
   ]}
 ]}
],
"config": {
  "font": "Liberation Sans",
  "view": {"stroke": "#444", "strokeWidth": 1},
  "text": {"font": "Liberation Sans", "color": "black"},
  "axis": {"labelFont": "Liberation Sans", "labelFontSize": 10, "labelColor": "#222", "titleFont": "Liberation Sans", "titleFontSize": 10, "titleFontWeight": "normal", "titleColor": "#222", "grid": false, "domainColor": "#444", "tickColor": "#444", "tickSize": -4, "labelPadding": 7, "tickCount": 6},
  "axisX": {"titlePadding": 3, "labelFlush": false},
  "axisY": {"titlePadding": 9, "format": "~g"}
}
}
